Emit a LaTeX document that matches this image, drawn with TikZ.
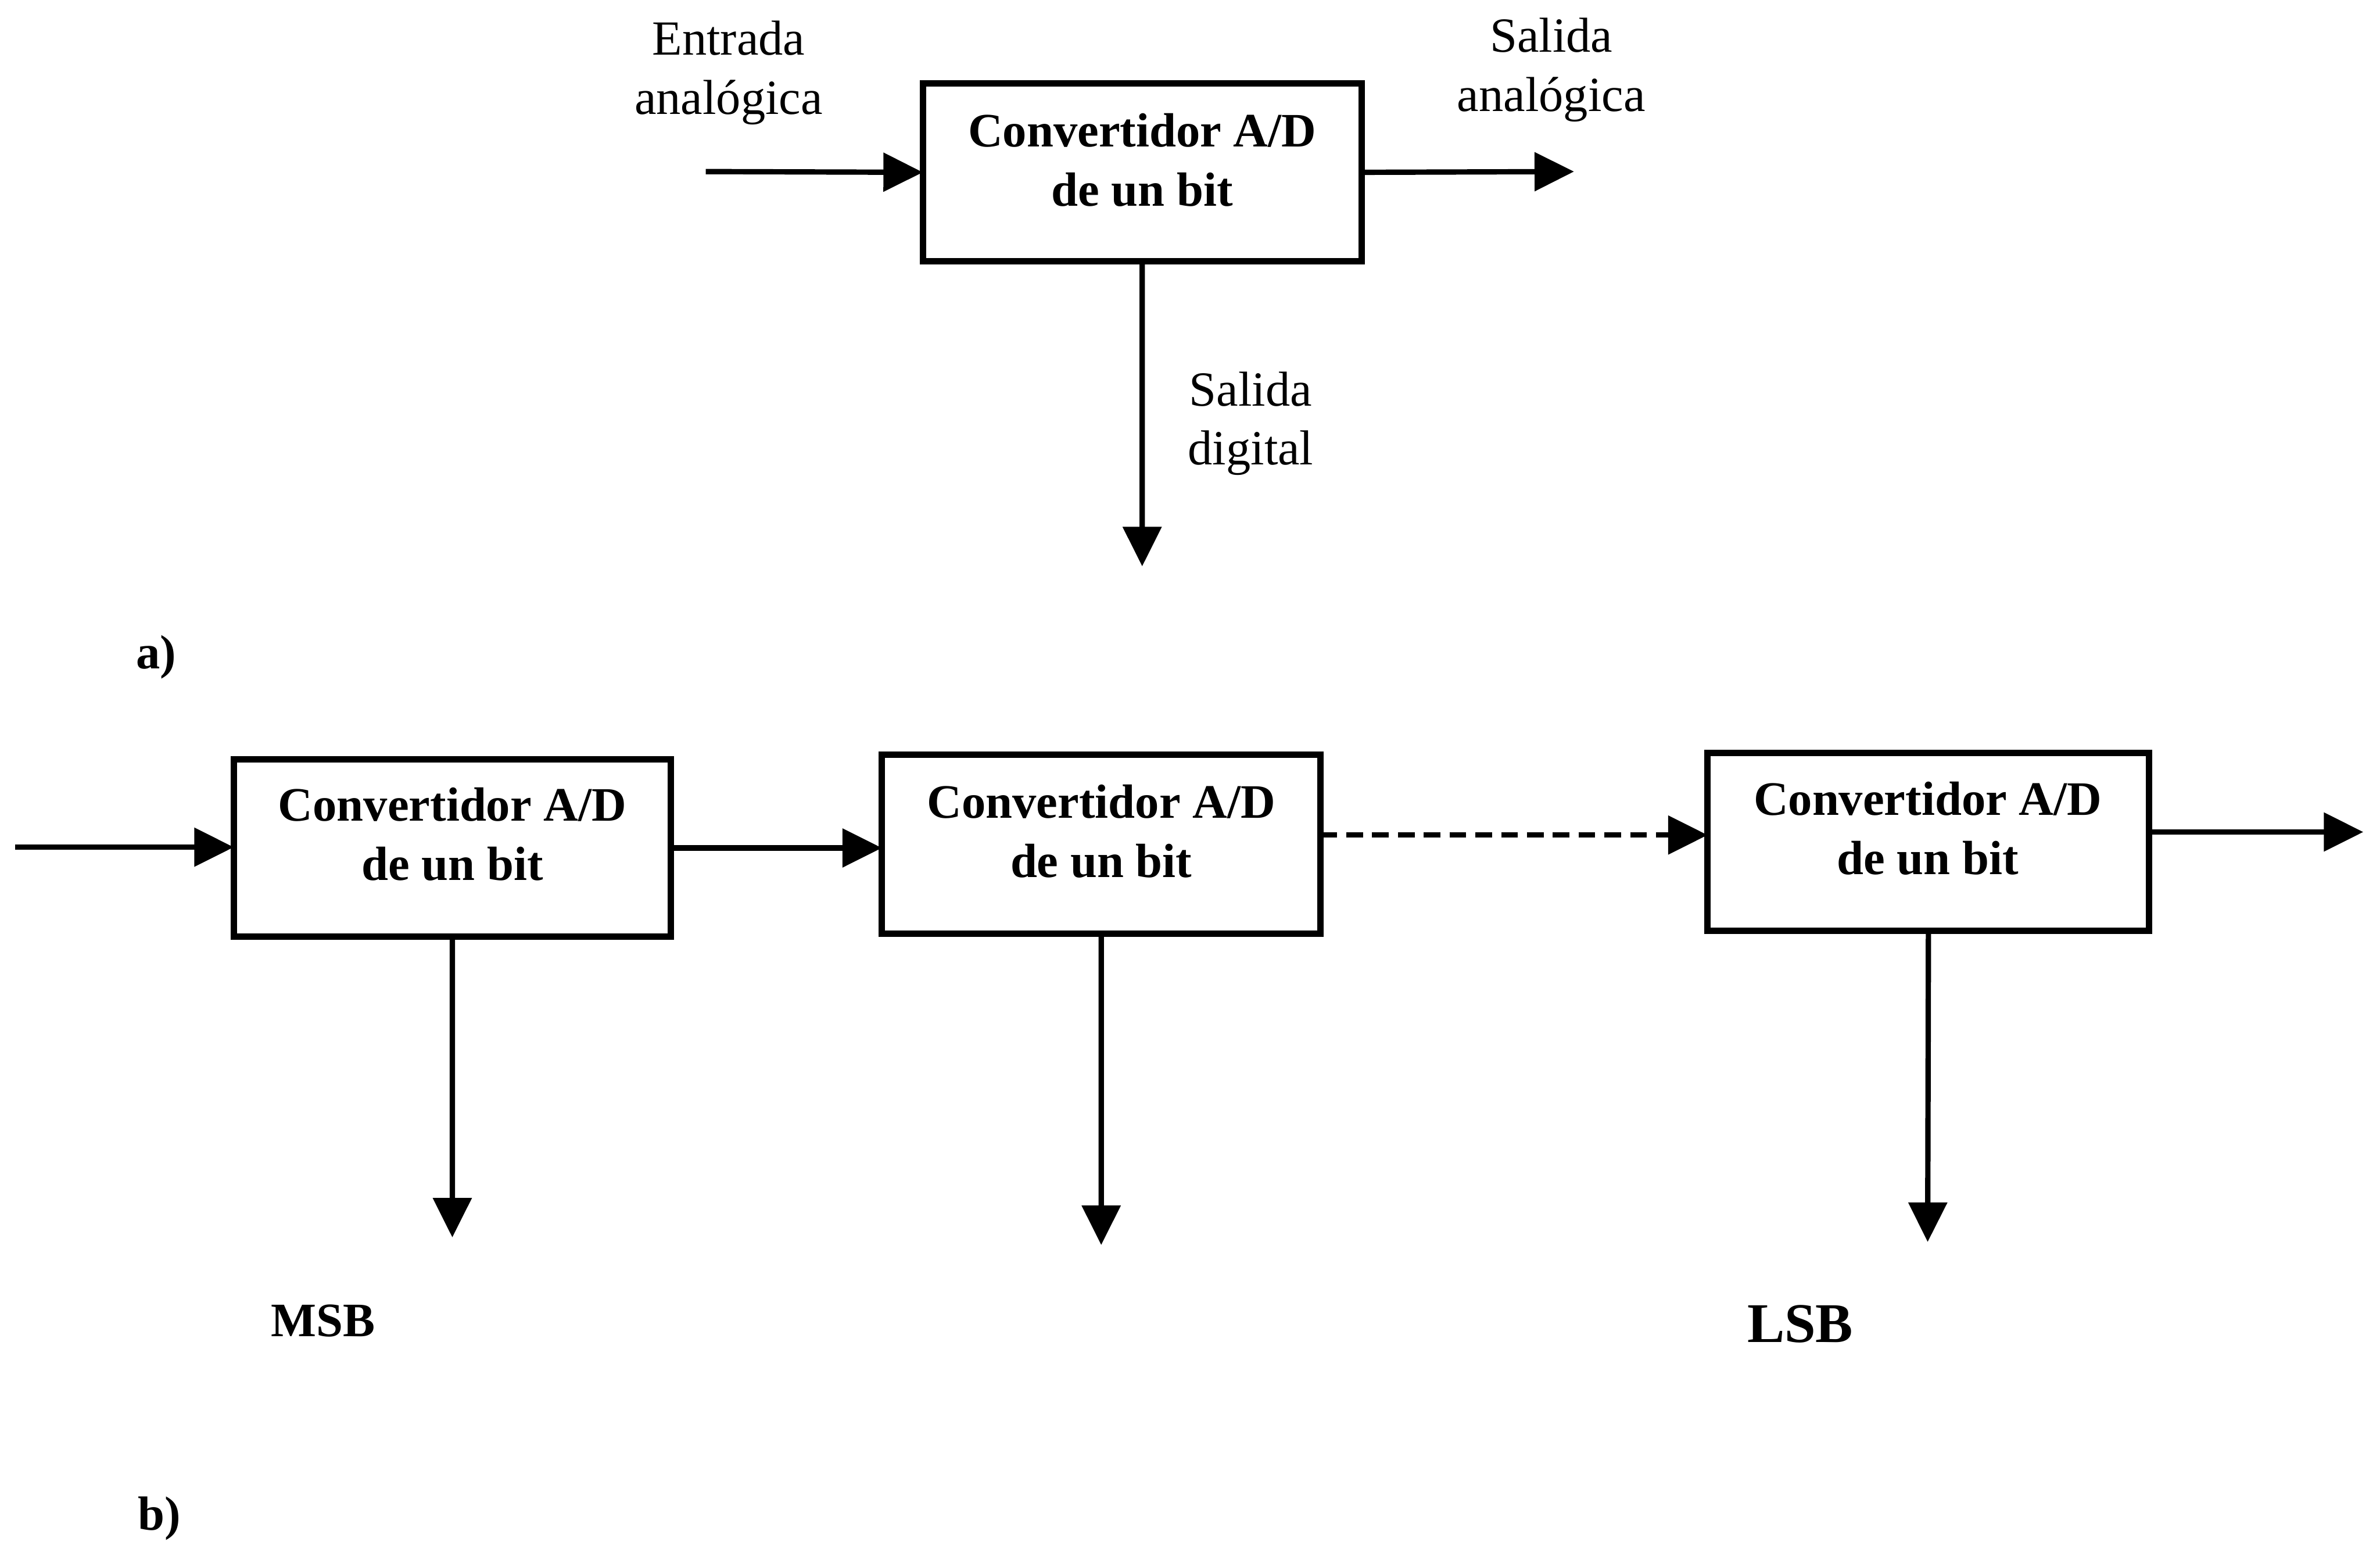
\documentclass[tikz,border=0pt]{standalone}
\usepackage{fontspec}
\setmainfont{Liberation Serif}
\usetikzlibrary{arrows.meta}
\begin{document}
\begin{tikzpicture}[x=0.1mm,y=-0.1mm,
  blk/.style={draw,line width=1.2pt,inner sep=0pt,outer sep=0pt,anchor=north west,minimum height=11.7mm},
  blktext/.style={font=\fontsize{9}{11.1}\selectfont\bfseries,align=center,inner sep=0pt},
  lbl/.style={font=\fontsize{9.2}{11.1}\selectfont,align=center,inner sep=0pt},
  tag/.style={font=\fontsize{9}{11.1}\selectfont\bfseries,inner sep=0pt},
  arr/.style={line width=1pt,-{Triangle[length=2.6mm,width=2.5mm]}},
  darr/.style={arr,dash pattern=on 1.1mm off 0.6mm}]
\useasboundingbox (0,0) rectangle (1568,1018);
% part a
\node[blk,minimum width=28.9mm] (top) at (608,55) {};
\node[blktext] (toptxt) at (752.5,105.5) {Convertidor A/D\\de un bit};
\coordinate (ina) at (465,113);
\coordinate (outa) at (1037,113);
\coordinate (diga) at (752.5,373);
\draw[arr] (ina) -- (top.west);
\draw[arr] (top.east) -- (outa);
\draw[arr] (top.south) -- (diga);
\node[lbl] (lin) at (480,48) {Entrada\\analógica};
\node[lbl] (lout) at (1022,46) {Salida\\analógica};
\node[lbl] (ldig) at (824,279) {Salida\\digital};
\node[tag] (ta) at (103,433) {a)};
% part b
\node[blk,minimum width=28.8mm] (b1) at (154,500) {};
\node[blktext] (b1txt) at (298,549.5) {Convertidor A/D\\de un bit};
\node[blk,minimum width=28.9mm,minimum height=11.8mm] (b2) at (581,497) {};
\node[blktext] (b2txt) at (725.5,547.5) {Convertidor A/D\\de un bit};
\node[blk,minimum width=29.1mm] (b3) at (1125,496) {};
\node[blktext] (b3txt) at (1270,545.5) {Convertidor A/D\\de un bit};
\coordinate (inb) at (10,558);
\coordinate (dy) at (0,550);
\coordinate (outb) at (1557,548);
\coordinate (d1) at (298,815);
\coordinate (d2) at (725.5,820);
\coordinate (d3) at (1270,818);
\draw[arr] (inb) -- (inb -| b1.west);
\draw[arr] (b1.east) -- (b1.east -| b2.west);
\draw[darr] (b2.east |- dy) -- (b3.west |- dy);
\draw[arr] (b3.east |- outb) -- (outb);
\draw[arr] (b1.south) -- (d1);
\draw[arr] (b2.south) -- (d2);
\draw[arr] (b3.south) -- (d3);
\node[tag] (msb) at (213,870) {MSB};
\node[tag,font=\fontsize{10.5}{12}\selectfont\bfseries] (lsb) at (1186,872) {LSB};
\node[tag] (tb) at (105,1000) {b)};
\end{tikzpicture}
\end{document}
